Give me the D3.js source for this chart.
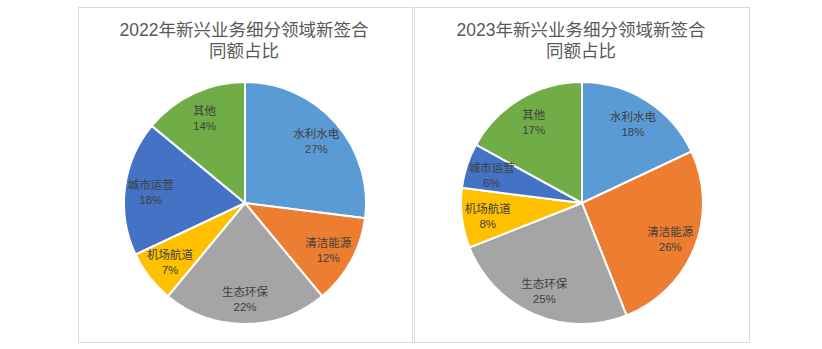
<!DOCTYPE html>
<html><head><meta charset="utf-8">
<script src="https://cdn.jsdelivr.net/npm/d3@7"></script>
<style>body{margin:0;background:#fff}svg{display:block}</style>
</head><body>
<svg id="c" width="822" height="349"></svg>
<script>
const categories = ["水利水电","清洁能源","生态环保","机场航道","城市运营","其他"];
const values2022 = [27,12,22,7,18,14];
const values2023 = [18,26,25,8,6,17];
const titles2022 = ["2022年新兴业务细分领域新签合","同额占比"];
const titles2023 = ["2023年新兴业务细分领域新签合","同额占比"];
const colors = ["#5B9BD5","#ED7D31","#A5A5A5","#FFC000","#4472C4","#70AD47"];

const FONT = "'Liberation Sans', 'Noto Sans CJK SC', sans-serif";
const svg = d3.select("#c");
const panels = [
  {x:78.5, y:7.5, w:334, h:335, data:values2022, titleLines:titles2022, cx:245, cy:203},
  {x:414.5, y:7.5, w:335, h:335, data:values2023, titleLines:titles2023, cx:582, cy:203}
];
const R = 121;
const pie = d3.pie().sort(null).value(d=>d);
const arc = d3.arc().innerRadius(0).outerRadius(R);
const labelArc = d3.arc().innerRadius(95).outerRadius(95);
const color = d3.scaleOrdinal().domain(categories).range(colors);

panels.forEach(p=>{
  svg.append("rect").attr("x",p.x).attr("y",p.y).attr("width",p.w).attr("height",p.h)
    .attr("fill","#fff").attr("stroke","#d9d9d9").attr("stroke-width",1);
  p.titleLines.forEach((l,i)=>{
    svg.append("text").attr("text-anchor","middle")
      .attr("font-family",FONT).attr("font-size",17.5).attr("fill","#595959")
      .attr("x",p.cx-1).attr("y",36+i*21).text(l);
  });
  const g = svg.append("g").attr("transform",`translate(${p.cx},${p.cy})`);
  const arcs = pie(p.data).map((a,i)=>Object.assign(a,{cat:categories[i]}));
  g.selectAll("path").data(arcs).join("path")
    .attr("d",arc).attr("fill",d=>color(d.cat)).attr("stroke","#fff").attr("stroke-width",2);
  arcs.forEach(d=>{
    const [lx,ly] = labelArc.centroid(d);
    [d.cat, d.data+"%"].forEach((s,i)=>{
      g.append("text").attr("text-anchor","middle").attr("font-family",FONT)
        .attr("font-size",11.5).attr("fill","#404040")
        .attr("x",lx).attr("y",ly-2+i*15).text(s);
    });
  });
});
</script>
</body></html>
